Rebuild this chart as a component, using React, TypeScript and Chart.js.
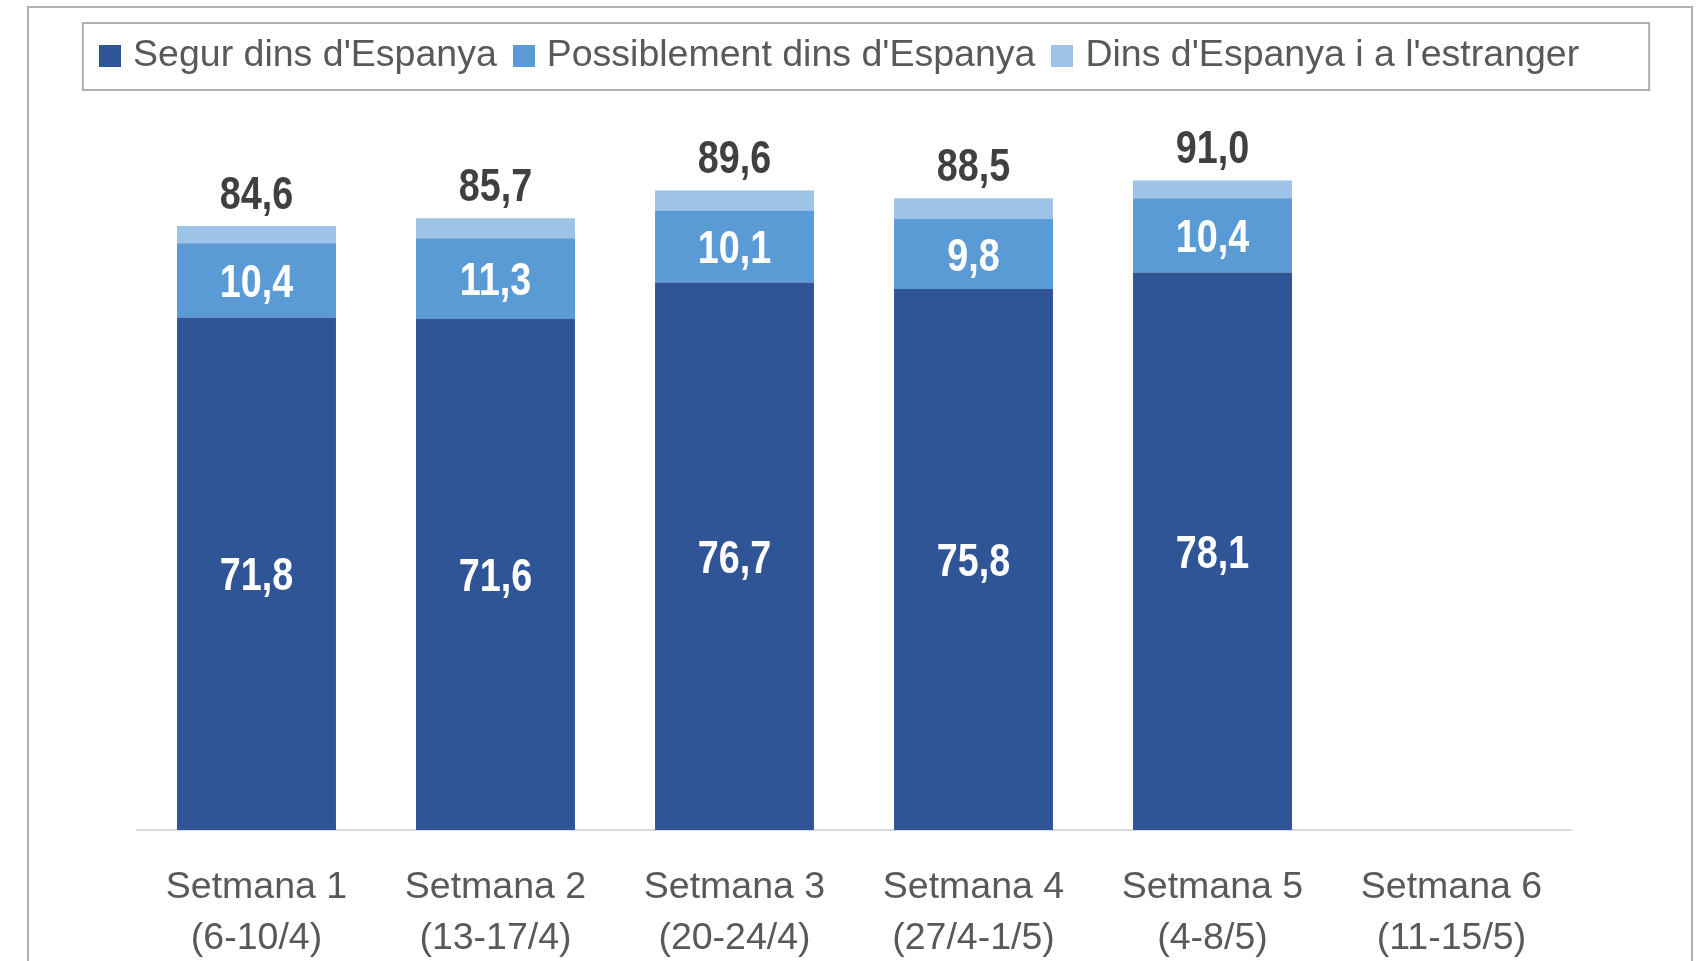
import React, { useEffect, useRef } from "react";
import { Chart, registerables } from "chart.js";

Chart.register(...registerables);

const categories: string[][] = [
  ["Setmana 1", "(6-10/4)"],
  ["Setmana 2", "(13-17/4)"],
  ["Setmana 3", "(20-24/4)"],
  ["Setmana 4", "(27/4-1/5)"],
  ["Setmana 5", "(4-8/5)"],
  ["Setmana 6", "(11-15/5)"],
];
const seriesNames = [
  "Segur dins d'Espanya",
  "Possiblement dins d'Espanya",
  "Dins d'Espanya i a l'estranger",
];
const segur = [71.8, 71.6, 76.7, 75.8, 78.1, null];
const possiblement = [10.4, 11.3, 10.1, 9.8, 10.4, null];
const estranger = [2.4, 2.8, 2.8, 2.9, 2.5, null];
const totals = [84.6, 85.7, 89.6, 88.5, 91.0, null];
const seriesColors = ["#2F5597", "#5B9BD5", "#9DC3E6"];

const FONT = '"Liberation Sans", Arial, sans-serif';
const LEGEND_BOX = 22;

const fmt = (v: number) => v.toFixed(1).replace(".", ",");

function makeSwatch(color: string) {
  const c = document.createElement("canvas");
  c.width = LEGEND_BOX;
  c.height = LEGEND_BOX;
  const g = c.getContext("2d")!;
  g.fillStyle = color;
  g.fillRect(0, 0, LEGEND_BOX, LEGEND_BOX);
  return c;
}

function drawLabel(ctx: CanvasRenderingContext2D, text: string, x: number, y: number, color: string) {
  ctx.save();
  ctx.translate(x, y);
  ctx.scale(0.82, 1);
  ctx.font = `bold 46px ${FONT}`;
  ctx.fillStyle = color;
  ctx.textAlign = "center";
  ctx.textBaseline = "middle";
  ctx.fillText(text, 0, 0);
  ctx.restore();
}

const labelPlugin = {
  id: "valueLabels",
  afterDatasetsDraw(chart: any) {
    const ctx = chart.ctx as CanvasRenderingContext2D;
    [0, 1].forEach((di) => {
      const meta = chart.getDatasetMeta(di);
      meta.data.forEach((el: any, i: number) => {
        const v = chart.data.datasets[di].data[i];
        if (v == null) return;
        const p = el.getProps(["x", "y", "base"], true);
        drawLabel(ctx, fmt(v), p.x, (p.y + p.base) / 2 + 4, "#FFFFFF");
      });
    });
    const topMeta = chart.getDatasetMeta(2);
    topMeta.data.forEach((el: any, i: number) => {
      const t = totals[i];
      if (t == null) return;
      const p = el.getProps(["x", "y"], true);
      drawLabel(ctx, fmt(t), p.x, p.y - 30, "#404040");
    });
  },
  afterDraw(chart: any) {
    const hb = chart.legend && chart.legend.legendHitBoxes;
    if (!hb || !hb.length) return;
    const ctx = chart.ctx as CanvasRenderingContext2D;
    const first = hb[0];
    const last = hb[hb.length - 1];
    const cy = first.top + first.height / 2;
    const left = first.left - 23;
    const right = last.left + last.width + 70;
    ctx.save();
    ctx.strokeStyle = "#AFAFAF";
    ctx.lineWidth = 2;
    ctx.strokeRect(left, cy - 33, right - left, 67);
    ctx.restore();
  },
};

export default function App() {
  const canvasRef = useRef<HTMLCanvasElement | null>(null);

  useEffect(() => {
    document.body.style.margin = "0";
    const canvas = canvasRef.current;
    if (!canvas) return;
    const swatches = seriesColors.map(makeSwatch);
    const chart = new Chart(canvas, {
      type: "bar",
      data: {
        labels: categories,
        datasets: [
          { label: seriesNames[0], data: segur, backgroundColor: seriesColors[0], borderWidth: 0 },
          { label: seriesNames[1], data: possiblement, backgroundColor: seriesColors[1], borderWidth: 0 },
          { label: seriesNames[2], data: estranger, backgroundColor: seriesColors[2], borderWidth: 0 },
        ],
      },
      options: {
        animation: false,
        responsive: false,
        maintainAspectRatio: false,
        devicePixelRatio: 1,
        layout: { padding: { left: 2, right: 15, top: 14.5, bottom: 0 } },
        datasets: {
          bar: { categoryPercentage: 1, barPercentage: 0.665 },
        },
        plugins: {
          tooltip: { enabled: false },
          legend: {
            position: "top",
            labels: {
              usePointStyle: true,
              pointStyleWidth: 8.5,
              boxHeight: LEGEND_BOX,
              padding: 22.75,
              color: "#595959",
              font: { family: FONT, size: 37.5 },
              generateLabels: (chart: any) => {
                const items = (Chart as any).defaults.plugins.legend.labels.generateLabels(chart);
                return items.map((it: any, i: number) => ({ ...it, pointStyle: swatches[i] }));
              },
            },
          },
        },
        scales: {
          x: {
            stacked: true,
            grid: { display: false, drawTicks: false },
            border: { display: true, color: "#D9D9D9", width: 2 },
            ticks: {
              color: "#595959",
              font: { family: FONT, size: 37.5, lineHeight: 1.36 },
              padding: 32,
              maxRotation: 0,
              autoSkip: false,
            },
            afterFit: (scale: any) => {
              scale.height = 131;
            },
          },
          y: {
            stacked: true,
            min: 0,
            max: 104.4,
            position: "left",
            grid: { display: false, drawTicks: false },
            border: { display: false },
            ticks: { display: false },
            afterFit: (scale: any) => {
              scale.width = 135;
            },
          },
          yRight: {
            type: "linear",
            position: "right",
            grid: { display: false, drawTicks: false },
            border: { display: false },
            ticks: { display: false },
            afterFit: (scale: any) => {
              scale.width = 112;
            },
          },
        },
      } as any,
      plugins: [labelPlugin],
    });
    return () => chart.destroy();
  }, []);

  return (
    <div style={{ position: "relative", width: 1698, height: 961, overflow: "hidden", background: "#FFFFFF" }}>
      <div
        style={{
          position: "absolute",
          left: 27,
          top: 6,
          width: 1666,
          height: 1000,
          border: "2px solid #B0B0B0",
          boxSizing: "border-box",
        }}
      />
      <canvas
        ref={canvasRef}
        width={1698}
        height={961}
        style={{ position: "absolute", left: 0, top: 0, width: 1698, height: 961 }}
      />
    </div>
  );
}
